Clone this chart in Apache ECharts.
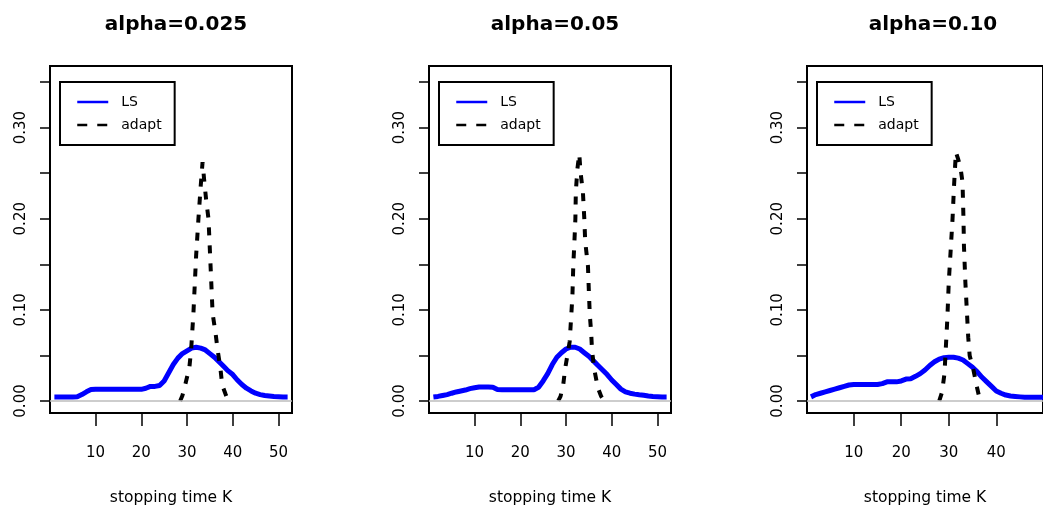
<!DOCTYPE html>
<html>
<head>
<meta charset="utf-8">
<script src="https://cdn.jsdelivr.net/npm/echarts@6/dist/echarts.min.js"></script>
<style>
  html, body { margin: 0; padding: 0; background: #fff; }
  #myChart { width: 1043px; height: 512px; }
</style>
</head>
<body>
<div id="myChart"></div>
<script>
// panel titles
const titles = ["alpha=0.025", "alpha=0.05", "alpha=0.10"];

// stopping time K (x values of the LS curves)
const kValues = [1, 2, 3, 4, 5, 6, 7, 8, 9, 10, 11, 12, 13, 14, 15, 16, 17, 18, 19, 20,
  21, 22, 23, 24, 25, 26, 27, 28, 29, 30, 31, 32, 33, 34, 35, 36, 37, 38, 39, 40,
  41, 42, 43, 44, 45, 46, 47, 48, 49, 50, 51, 52];

// LS density, one per panel
const ls1 = [0.0044, 0.0044, 0.0044, 0.0044, 0.0044, 0.0046, 0.007, 0.010, 0.0125, 0.0128,
  0.0128, 0.0128, 0.0128, 0.0128, 0.0128, 0.0128, 0.0128, 0.0128, 0.0128, 0.0128,
  0.014, 0.016, 0.016, 0.017, 0.022, 0.031, 0.040, 0.047, 0.052, 0.055,
  0.058, 0.059, 0.058, 0.056, 0.052, 0.048, 0.043, 0.038, 0.033, 0.029,
  0.023, 0.018, 0.014, 0.011, 0.0085, 0.007, 0.006, 0.0055, 0.005, 0.0047, 0.0044, 0.0044];
const ls2 = [0.0044, 0.005, 0.006, 0.007, 0.0085, 0.0099, 0.011, 0.012, 0.0135, 0.0145,
  0.0153, 0.0153, 0.0153, 0.015, 0.0125, 0.0124, 0.0124, 0.0124, 0.0124, 0.0124,
  0.0124, 0.0124, 0.0124, 0.015, 0.022, 0.030, 0.040, 0.048, 0.053, 0.057,
  0.059, 0.059, 0.057, 0.053, 0.049, 0.044, 0.039, 0.034, 0.029, 0.023,
  0.018, 0.013, 0.010, 0.0085, 0.0075, 0.0068, 0.0062, 0.0055, 0.005, 0.0047, 0.0044, 0.0044];
const ls3 = [0.0045, 0.007, 0.0085, 0.010, 0.0115, 0.013, 0.0145, 0.016, 0.0175, 0.018,
  0.018, 0.018, 0.018, 0.018, 0.018, 0.019, 0.021, 0.021, 0.021, 0.022,
  0.024, 0.0245, 0.027, 0.030, 0.034, 0.039, 0.043, 0.046, 0.0475, 0.048,
  0.048, 0.047, 0.045, 0.041, 0.037, 0.032, 0.026, 0.021, 0.016, 0.011,
  0.0085, 0.0065, 0.0055, 0.005, 0.0045, 0.004, 0.004, 0.004, 0.004, 0.004];

// adapt density (x, y)
const ad1X = [28.5, 29, 29.6, 30, 30.5, 30.9, 31.4, 32, 32.5, 33, 33.4, 33.8, 34.2, 34.7, 35.05,
  35.6, 36.2, 36.7, 37.3, 37.7, 38.4, 39];
const ad1Y = [0, 0.006, 0.0175, 0.026, 0.036, 0.056, 0.096, 0.16, 0.2, 0.236, 0.262, 0.24, 0.22, 0.2, 0.16,
  0.096, 0.076, 0.056, 0.036, 0.0175, 0.008, 0];
const ad2X = [28.3, 28.8, 29.4, 29.8, 30.3, 30.8, 31.1, 31.4, 31.6, 31.8, 32.05, 32.15, 32.5, 32.9,
  33.2, 33.7, 34.0, 34.2, 34.8, 35.0, 35.2, 35.5, 35.7, 36.2, 37.0, 37.7, 38.4];
const ad2Y = [0, 0.005, 0.018, 0.035, 0.05, 0.065, 0.09, 0.115, 0.15, 0.17, 0.2, 0.23, 0.255, 0.271,
  0.25, 0.229, 0.2, 0.175, 0.148, 0.12, 0.095, 0.075, 0.055, 0.034, 0.014, 0.005, 0];
const ad3X = [28, 28.6, 29.1, 29.4, 29.7, 30, 30.4, 30.8, 31.1, 31.5,
  32, 32.5, 32.9, 33.1, 33.2, 33.5, 33.8, 34.1, 34.4, 35.2, 35.9, 36.6];
const ad3Y = [0, 0.01, 0.03, 0.06, 0.09, 0.13, 0.165, 0.2, 0.235, 0.273,
  0.265, 0.255, 0.24, 0.2, 0.17, 0.13, 0.1, 0.07, 0.05, 0.034, 0.016, 0];

// axis ticks
const yTicks = [0, 0.05, 0.1, 0.15, 0.2, 0.25, 0.3, 0.35];
const yLabels = [0, 0.1, 0.2, 0.3];
const xTicks = [10, 20, 30, 40, 50];

const lsSets = [ls1, ls2, ls3];
const lsK = [kValues, kValues, kValues.slice(0, 50)];
const adX = [ad1X, ad2X, ad3X];
const adY = [ad1Y, ad2Y, ad3Y];
const xRange = [[0.04, 52.96], [0.04, 52.96], [0.16, 49.84]];
const gridLeft = [50, 429, 807];
const font = "DejaVu Sans";

const pairs = (xs, ys) => xs.map((x, i) => [x, ys[i]]);

let myChart = echarts.init(document.getElementById("myChart"));

let option = {
  animation: false,
  backgroundColor: "#fff",
  title: titles.map((t, i) => ({
    text: t,
    left: gridLeft[i] + 121,
    top: 10,
    textAlign: "center",
    textStyle: { fontFamily: font, fontWeight: "bold", fontSize: 20, color: "#000" },
  })),
  grid: gridLeft.map((l) => ({
    left: l, top: 66, width: 242, height: 347,
    show: true, borderColor: "#000", borderWidth: 2, backgroundColor: "transparent",
  })),
  legend: gridLeft.map((l) => ({
    left: l + 10, top: 82, orient: "vertical",
    data: [
      { name: "LS" },
      { name: "adapt", lineStyle: { type: [10, 10] } },
    ],
    borderColor: "#000", borderWidth: 2, borderRadius: 0,
    padding: [13, 13, 13, 16], itemGap: 9, itemWidth: 31, itemHeight: 14,
    selectedMode: false,
    itemStyle: { opacity: 0 },
    lineStyle: { width: 2.5 },
    textStyle: { fontFamily: font, fontSize: 14, color: "#000", width: 40, padding: [0, 0, 0, 8] },
  })),
  xAxis: gridLeft.map((l, i) => ({
    type: "value", gridIndex: i, min: xRange[i][0], max: xRange[i][1],
    name: "stopping time K", nameLocation: "middle", nameGap: 77,
    nameTextStyle: { fontFamily: font, fontSize: 15.5, color: "#000" },
    axisLine: { show: false, onZero: false },
    axisTick: { show: true, length: 13, customValues: xTicks, lineStyle: { color: "#000", width: 1.5 } },
    axisLabel: { customValues: xTicks, margin: 33, fontFamily: font, fontSize: 15, color: "#000" },
    splitLine: { show: false },
  })),
  yAxis: gridLeft.map((l, i) => ({
    type: "value", gridIndex: i, min: -0.0132, max: 0.3676,
    axisLine: { show: false, onZero: false },
    axisTick: { show: true, length: 10, customValues: yTicks, lineStyle: { color: "#000", width: 1.5 } },
    axisLabel: {
      customValues: yLabels, rotate: 90, margin: 21,
      fontFamily: font, fontSize: 15, color: "#000",
      formatter: (v) => v.toFixed(2),
    },
    splitLine: { show: false },
  })),
  series: [],
};

for (let i = 0; i < 3; i++) {
  option.series.push({
    name: "LS", type: "line", xAxisIndex: i, yAxisIndex: i,
    data: pairs(lsK[i], lsSets[i]),
    symbol: "none", lineStyle: { color: "#0000ff", width: 5 }, itemStyle: { color: "#0000ff" },
    markLine: {
      silent: true, symbol: "none", label: { show: false },
      lineStyle: { color: "#bdbdbd", width: 1.5, type: "solid" },
      data: [{ yAxis: 0 }],
    },
    z: 2,
  });
  option.series.push({
    name: "adapt", type: "line", xAxisIndex: i, yAxisIndex: i,
    data: pairs(adX[i], adY[i]),
    symbol: "none", lineStyle: { color: "#000", width: 4, type: [8, 10] }, itemStyle: { color: "#000" },
    z: 3,
  });
}

myChart.setOption(option);
</script>
</body>
</html>
